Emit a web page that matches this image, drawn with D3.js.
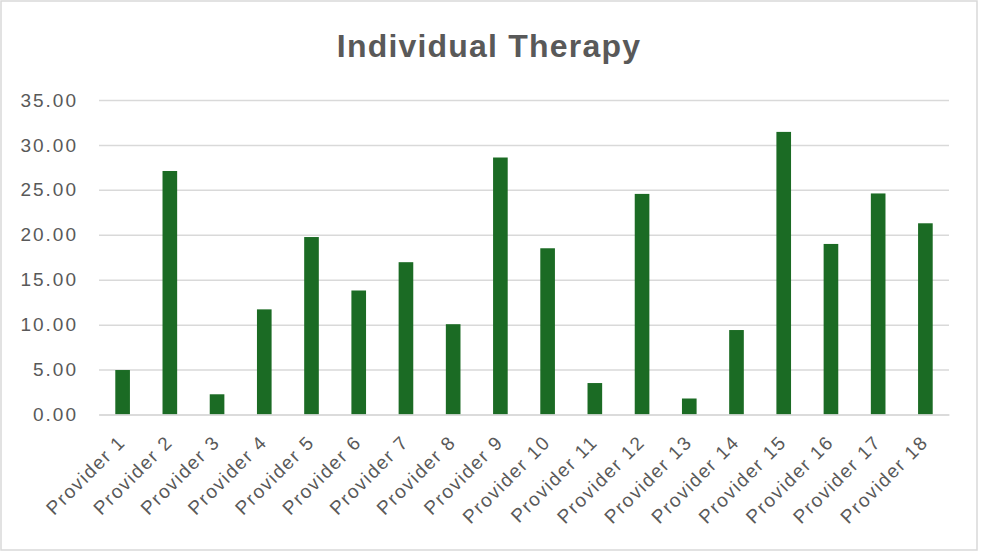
<!DOCTYPE html>
<html>
<head>
<meta charset="utf-8">
<script src="https://cdn.jsdelivr.net/npm/d3@7"></script>
<style>
  html, body { margin: 0; padding: 0; background: #ffffff; }
  svg { display: block; }
  text { font-family: "Liberation Sans", Arial, sans-serif; fill: #595959; }
</style>
</head>
<body>
<svg id="chart" width="984" height="552"></svg>
<script>
// Individual therapy totals per provider
const providers = [
  "Provider 1", "Provider 2", "Provider 3", "Provider 4", "Provider 5", "Provider 6",
  "Provider 7", "Provider 8", "Provider 9", "Provider 10", "Provider 11", "Provider 12",
  "Provider 13", "Provider 14", "Provider 15", "Provider 16", "Provider 17", "Provider 18"
];
const therapyValues = [
  4.95, 27.10, 2.25, 11.70, 19.75, 13.80,
  16.95, 10.05, 28.60, 18.50, 3.50, 24.55,
  1.78, 9.40, 31.45, 18.98, 24.60, 21.28
];
const yTicks = [0, 5, 10, 15, 20, 25, 30, 35];
const chartTitle = "Individual Therapy";

const svg = d3.select("#chart");
const W = 984, H = 552;
const margin = { top: 100, right: 35, bottom: 137.5, left: 99 };
const plotW = W - margin.left - margin.right;
const plotH = H - margin.top - margin.bottom;

// outer chart frame
svg.append("rect")
  .attr("x", 1).attr("y", 1)
  .attr("width", 976).attr("height", 549)
  .attr("fill", "#ffffff")
  .attr("stroke", "#d9d9d9")
  .attr("stroke-width", 1.5);

svg.append("text")
  .attr("x", 489).attr("y", 57)
  .attr("text-anchor", "middle")
  .style("font-size", "32px")
  .style("font-weight", "bold")
  .style("letter-spacing", "1.2px")
  .text(chartTitle);

const x = d3.scaleBand()
  .domain(providers)
  .range([0, plotW])
  .paddingInner(0.69)
  .paddingOuter(0.345);

const y = d3.scaleLinear()
  .domain([0, 35])
  .range([plotH, 0]);

const g = svg.append("g")
  .attr("transform", `translate(${margin.left},${margin.top})`);

// horizontal gridlines with formatted labels
const yAxis = g.append("g")
  .call(d3.axisLeft(y)
    .tickValues(yTicks)
    .tickSize(-plotW)
    .tickPadding(21)
    .tickFormat(d3.format(".2f")));
yAxis.select(".domain").remove();
yAxis.selectAll(".tick line")
  .attr("stroke", "#d9d9d9")
  .attr("stroke-width", 1.5);
yAxis.selectAll(".tick text")
  .attr("fill", "#595959")
  .style("font-size", "19px")
  .style("letter-spacing", "2px")
  .style("font-family", "'Liberation Sans', Arial, sans-serif");

// bars
g.selectAll("rect.bar")
  .data(therapyValues)
  .join("rect")
  .attr("class", "bar")
  .attr("x", (d, i) => x(providers[i]))
  .attr("y", d => y(d))
  .attr("width", x.bandwidth())
  .attr("height", d => plotH - y(d))
  .attr("fill", "#1b6b24");

// category axis with rotated labels
const xAxis = g.append("g")
  .attr("transform", `translate(0,${plotH})`)
  .call(d3.axisBottom(x).tickSize(0).tickPadding(0));
xAxis.select(".domain")
  .attr("stroke", "#d9d9d9")
  .attr("stroke-width", 1.5);
xAxis.selectAll(".tick text")
  .attr("fill", "#595959")
  .attr("text-anchor", "end")
  .attr("dy", null)
  .attr("y", 0)
  .attr("transform", "translate(4,29) rotate(-45)")
  .style("font-size", "19px")
  .style("letter-spacing", "1.6px")
  .style("font-family", "'Liberation Sans', Arial, sans-serif");
</script>
</body>
</html>
